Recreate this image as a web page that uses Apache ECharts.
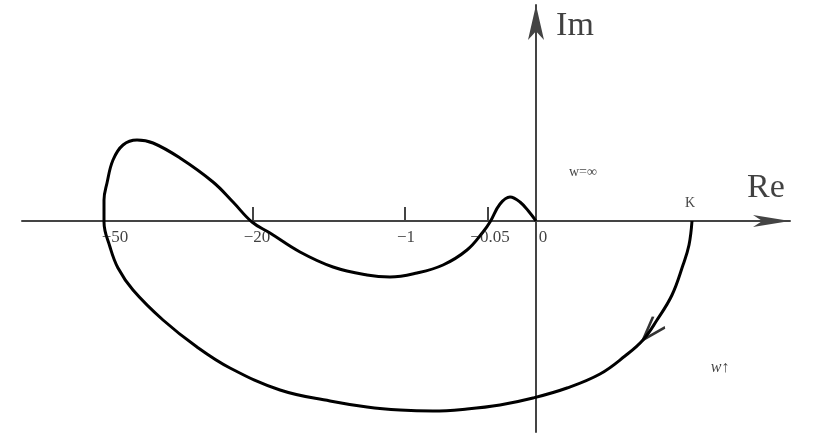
<!DOCTYPE html>
<html>
<head>
<meta charset="utf-8">
<script src="https://cdn.jsdelivr.net/npm/echarts@6/dist/echarts.min.js"></script>
<style>
html,body{margin:0;padding:0;background:#fff;}
#chart{width:818px;height:438px;}
</style>
</head>
<body>
<div id="chart"></div>
<script>
// Nyquist curve (schematic units), from K (w=0) to the origin (w=∞)
var curveRe = [156,153,147,136,121,107,89,64,31,-3,-36,-69,-103,-136,-169,-206,-256,-306,-339,-373,-403,-418,-426,-432,-432,-429,-423,-413,-399,-383,-356,-323,-303,-284,-266,-236,-203,-169,-146,-119,-93,-69,-53,-46,-36,-26,-16,-6,0];
var curveIm = [0,-24,-44,-74,-99,-119,-135,-153,-167,-177,-184,-188,-190,-189,-186,-180,-169,-147,-126,-99,-69,-47,-26,-1,21,38,61,76,81,78,63,39,19,-1,-12,-31,-46,-54,-56,-52,-44,-29,-11,-1,17,24,19,8,0];

// Re-axis ticks and tick labels
var tickValues = [-283,-131,-48];
var tickLabelValues = [-421,-279,-130,-46,7];
var tickLabels = ['\u221250','\u221220','\u22121','\u22120.05','0'];
var tickLabelIm = -17;

// annotations
var annoText = ['Im','Re','K','w=\u221e','w\u2191'];
var annoRe = [39,230,154,47,184];
var annoIm = [195,33,18,49,-147];

// direction arrow on the curve
var arrowRe = [115];
var arrowIm = [-110];

var annoStyle = {
  'Im': {fontSize: 34},
  'Re': {fontSize: 34},
  'K': {fontSize: 14},
  'w=\u221e': {fontSize: 14},
  'w\u2191': {fontSize: 16, fontStyle: 'italic'}
};

var curveData = curveRe.map(function (r, i) { return [r, curveIm[i]]; });

function textItem(t, re, im, st) {
  return {
    value: [re, im],
    name: t,
    label: Object.assign({show: true, position: 'inside', formatter: t, color: '#111', fontFamily: 'Liberation Serif'}, st || {})
  };
}
var annoData = annoText.map(function (t, i) { return textItem(t, annoRe[i], annoIm[i], annoStyle[t]); });
var tickLabelData = tickLabels.map(function (t, i) { return textItem(t, tickLabelValues[i], tickLabelIm, {fontSize: 17}); });

var chart = echarts.init(document.getElementById('chart'));
chart.setOption({
  backgroundColor: '#fff',
  animation: false,
  grid: {left: 22, right: 28, top: 5, bottom: 6, containLabel: false, outerBoundsMode: 'none'},
  xAxis: {
    type: 'value', min: -514, max: 254,
    splitLine: {show: false},
    axisLine: {onZero: true, lineStyle: {color: '#444', width: 2}, symbol: ['none', 'arrow'], symbolSize: [9, 37]},
    axisTick: {show: true, inside: true, length: 14, customValues: tickValues, lineStyle: {color: '#444', width: 2}},
    axisLabel: {show: false}
  },
  yAxis: {
    type: 'value', min: -211, max: 216,
    splitLine: {show: false},
    axisLine: {onZero: true, lineStyle: {color: '#444', width: 2}, symbol: ['none', 'arrow'], symbolSize: [12, 35]},
    axisTick: {show: false},
    axisLabel: {show: false}
  },
  series: [
    {
      type: 'line', data: curveData, smooth: 0.4, showSymbol: false, symbol: 'none',
      lineStyle: {color: '#000', width: 3}, z: 3
    },
    {
      type: 'scatter', data: arrowRe.map(function (r, i) { return [r, arrowIm[i]]; }),
      symbol: 'path://M0,0 L10,24 L20,0', symbolSize: [16, 24], symbolRotate: -42,
      itemStyle: {color: 'none', borderColor: '#000', borderWidth: 3}, z: 4
    },
    {
      type: 'scatter', data: annoData.concat(tickLabelData), symbolSize: 0, z: 5
    }
  ]
});
</script>
</body>
</html>
